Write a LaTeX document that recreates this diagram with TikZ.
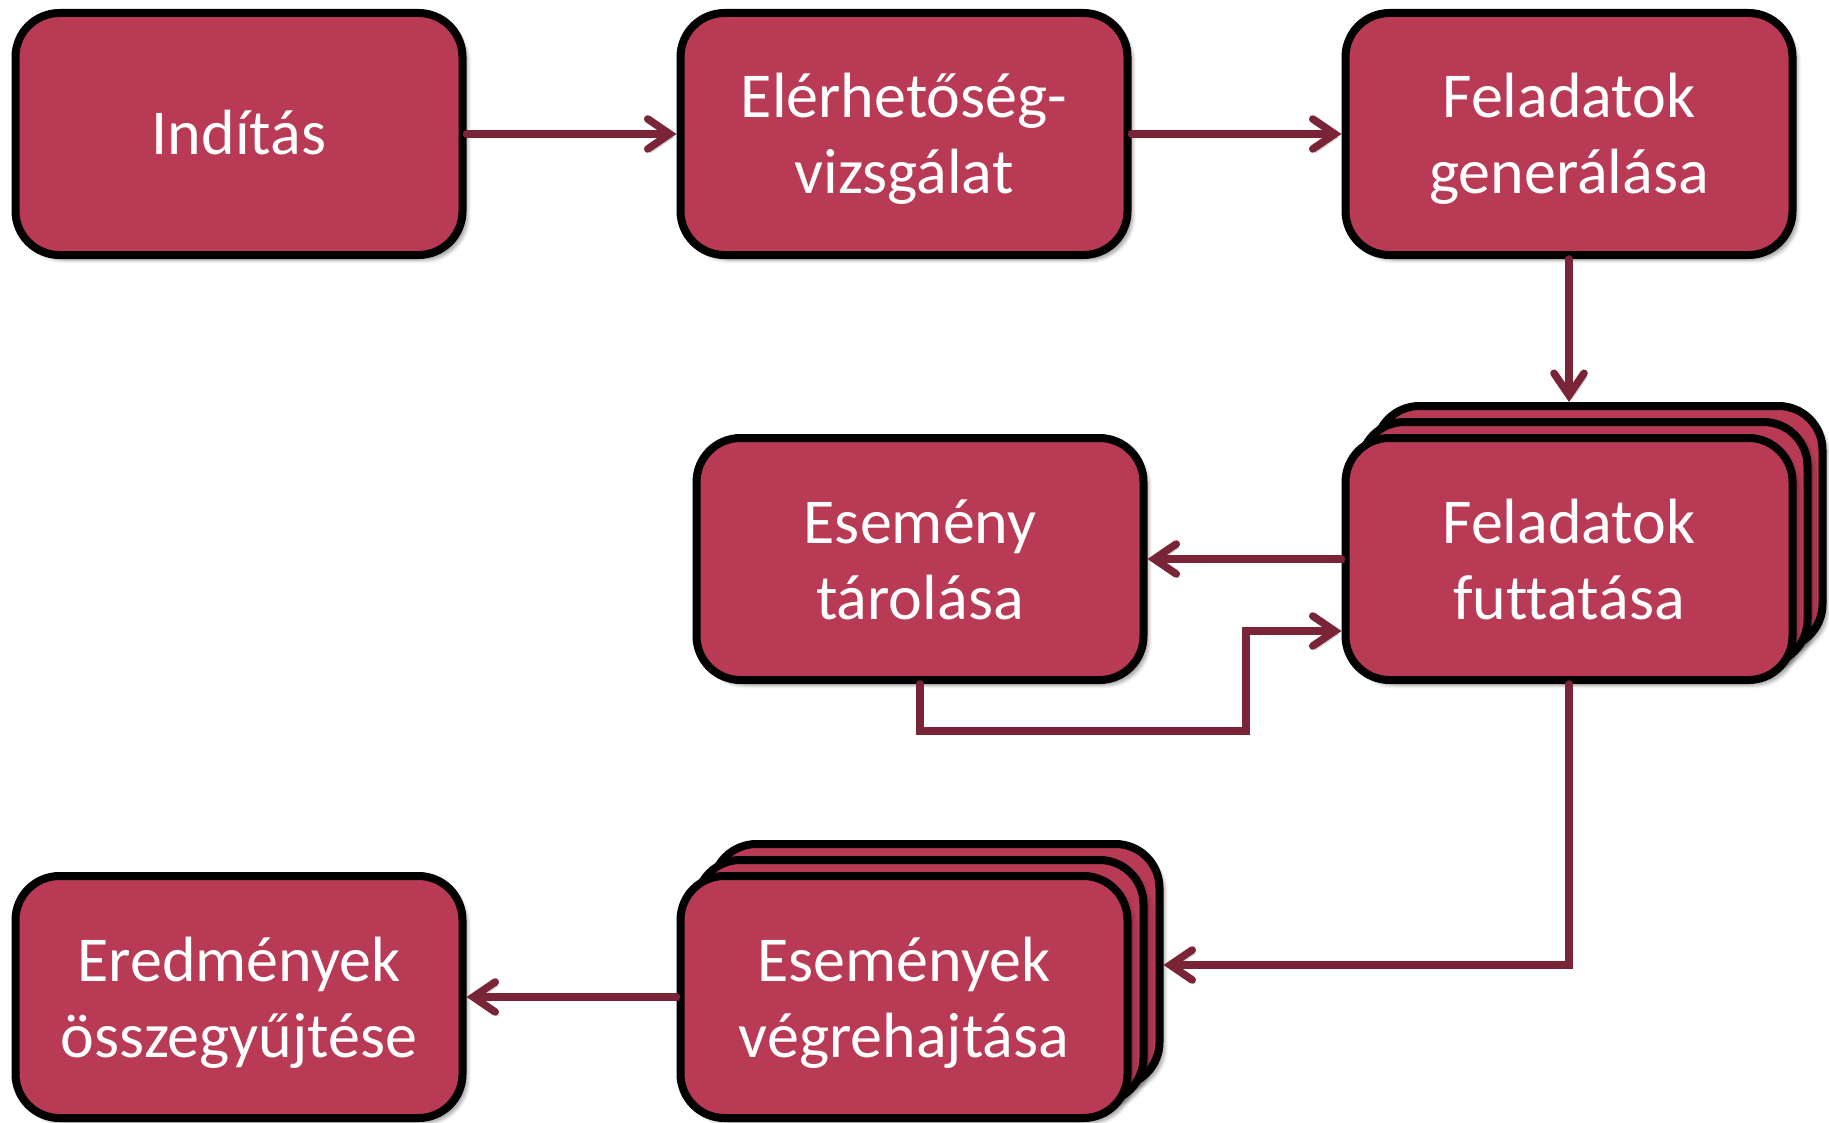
\documentclass[tikz,border=0pt]{standalone}
\usepackage{fontspec}
\setmainfont[Ligatures={NoCommon}]{Carlito}
\usetikzlibrary{arrows.meta,shadows.blur,positioning,calc}
\definecolor{boxfill}{HTML}{B83A54}
\definecolor{arrowc}{HTML}{7A2438}
\begin{document}
\begin{tikzpicture}[x=0.5pt,y=-0.5pt,
  boxbase/.style={draw=black,line width=4pt,fill=boxfill,rounded corners=22pt,
    minimum width=223.5pt,minimum height=121pt,inner sep=0pt,
    blur shadow={shadow xshift=2.5pt,shadow yshift=-2.5pt,shadow blur steps=6,shadow opacity=40}},
  stepbox/.style={boxbase,text=white,align=center,
    font=\fontsize{32}{38}\selectfont,text depth=0pt,text height=21pt},
  twoline/.style={text height=60pt},
  backbox/.style={boxbase},
  conn/.style={draw=arrowc,line width=3.8pt,line cap=round,line join=miter,
    -{Straight Barb[length=11pt,width=15pt,line cap=round]},
    preaction={draw=black!60,draw opacity=0.35,transform canvas={shift={(1.5pt,-1.8pt)}}}}]
\useasboundingbox (0,0) rectangle (1829,1123);
% top row
\node[stepbox] (b1) at (239,134) {Indítás};
\node[stepbox,twoline] (b2) at (904,134) {Elérhetőség-\\vizsgálat};
\node[stepbox,twoline] (b3) at (1569,134) {Feladatok\\generálása};
% stacked feladatok futtatása
\node[backbox] (b4c) at (1599,527) {};
\node[backbox] (b4b) at (1584,543) {};
\node[stepbox,twoline] (b4) at (1569,559) {Feladatok\\futtatása};
% esemény tárolása
\node[stepbox,twoline] (b5) at (920,559) {Esemény\\tárolása};
% stacked események végrehajtása
\node[backbox] (b6c) at (936,965) {};
\node[backbox] (b6b) at (920,981) {};
\node[stepbox,twoline] (b6) at (904,997) {Események\\végrehajtása};
% eredmények
\node[stepbox,twoline] (b7) at (239,997) {Eredmények\\összegyűjtése};
% connectors
\coordinate (c1) at (1246,731);
\coordinate (c2) at (1246,631);
\draw[conn] (b1.east) -- (b2.west);
\draw[conn] (b2.east) -- (b3.west);
\draw[conn] (b3.south) -- (b3.south |- b4c.north);
\draw[conn] (b4.west) -- (b5.east);
\draw[conn] (b5.south) |- (c1) -- (c2) -- (c2 -| b4.west);
\draw[conn] (b4.south) |- (b6c.east);
\draw[conn] (b6.west) -- (b7.east);
\end{tikzpicture}
\end{document}
